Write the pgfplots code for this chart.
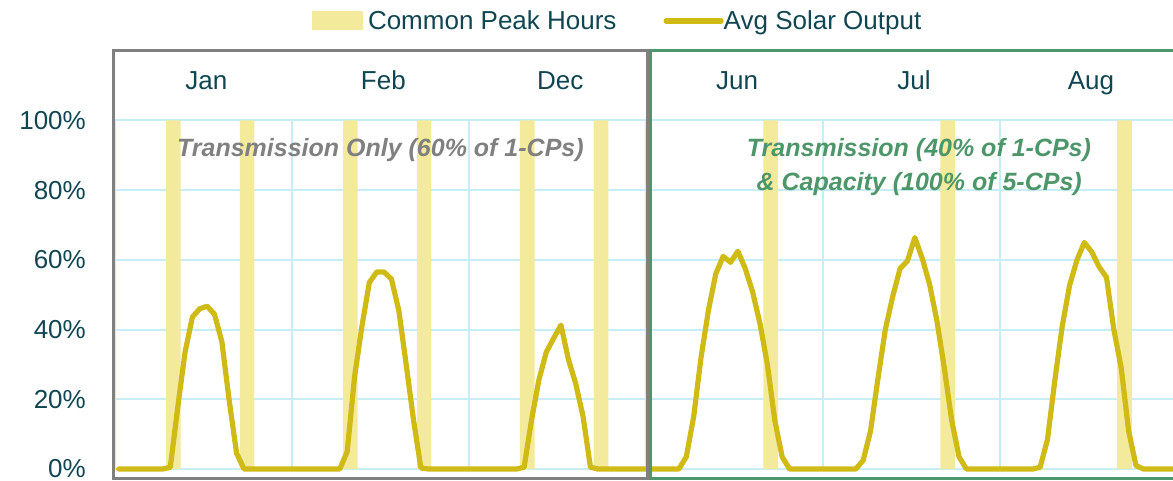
\documentclass[border=0pt]{standalone}
\usepackage{pgfplots}
\usepackage{pgfplotstable}
\pgfplotsset{compat=1.18}
\usepackage{fontspec}
\setmainfont{Liberation Sans}
\definecolor{solar}{RGB}{208,186,21}
\definecolor{peak}{RGB}{244,234,156}
\definecolor{gridc}{RGB}{200,238,245}
\definecolor{txt}{RGB}{16,70,82}
\definecolor{grayb}{RGB}{128,128,128}
\definecolor{greenb}{RGB}{78,150,108}
\definecolor{greent}{RGB}{77,150,105}

% hourly average solar output (%), Jan, Feb, Dec, Jun, Jul, Aug (24 h each)
\pgfplotstableread{
x y
0.5 0
1.5 0
2.5 0
3.5 0
4.5 0
5.5 0
6.5 0
7.5 0.5
8.5 17.5
9.5 33.5
10.5 43.6
11.5 46
12.5 46.7
13.5 44.4
14.5 36.5
15.5 19.5
16.5 4.5
17.5 0
18.5 0
19.5 0
20.5 0
21.5 0
22.5 0
23.5 0
24.5 0
25.5 0
26.5 0
27.5 0
28.5 0
29.5 0
30.5 0
31.5 5
32.5 26.5
33.5 41
34.5 53.5
35.5 56.5
36.5 56.5
37.5 54.5
38.5 45.5
39.5 30
40.5 14
41.5 0.3
42.5 0
43.5 0
44.5 0
45.5 0
46.5 0
47.5 0
48.5 0
49.5 0
50.5 0
51.5 0
52.5 0
53.5 0
54.5 0
55.5 0.5
56.5 14
57.5 25.5
58.5 33.5
59.5 37.5
60.5 41.3
61.5 31.5
62.5 24.5
63.5 15
64.5 0.5
65.5 0
66.5 0
67.5 0
68.5 0
69.5 0
70.5 0
71.5 0
72.5 0
73.5 0
74.5 0
75.5 0
76.5 0
77.5 3.5
78.5 15
79.5 32
80.5 45.5
81.5 56
82.5 61
83.5 59.3
84.5 62.5
85.5 57.5
86.5 50.8
87.5 41.7
88.5 30
89.5 14
90.5 3.5
91.5 0
92.5 0
93.5 0
94.5 0
95.5 0
96.5 0
97.5 0
98.5 0
99.5 0
100.5 0
101.5 2.5
102.5 11
103.5 26
104.5 40
105.5 49.5
106.5 57.5
107.5 59.7
108.5 66.4
109.5 60.5
110.5 53
111.5 42.5
112.5 29
113.5 14
114.5 3.5
115.5 0
116.5 0
117.5 0
118.5 0
119.5 0
120.5 0
121.5 0
122.5 0
123.5 0
124.5 0
125.5 0.5
126.5 8.5
127.5 25.5
128.5 41
129.5 52.7
130.5 60
131.5 65
132.5 62.3
133.5 58
134.5 55
135.5 40
136.5 29
137.5 11
138.5 1
139.5 0
140.5 0
141.5 0
142.5 0
143.5 0
}\solartable

% common peak hours (bar centres, 2 h wide)
\pgfplotstableread{
x y
7.92 100
17.93 100
31.92 100
41.93 100
55.92 100
65.93 100
88.95 100
112.95 100
136.95 100
}\peaktable

\begin{document}
\begin{tikzpicture}
\path[use as bounding box] (0pt,0pt) rectangle (1173pt,481pt);
\begin{axis}[
  at={(115pt,12pt)}, anchor=south west,
  scale only axis, width=1061.5pt, height=348.5pt,
  xmin=0, xmax=144, ymin=0, ymax=100,
  clip=false,
  axis line style={draw=none},
  major tick length=0pt,
  xtick={0,24,...,144}, xticklabels={},
  ytick={0,20,40,60,80,100},
  yticklabel={\pgfmathprintnumber{\tick}\%},
  /pgf/number format/assume math mode=true,
  yticklabel style={font=\fontsize{26}{26}\selectfont, text=txt, anchor=east, inner sep=0pt, xshift=-29pt},
  xmajorgrids, ymajorgrids,
  major grid style={draw=gridc, line width=2pt},
  legend style={at={(0.18559,1.2855)}, anchor=west, draw=none, fill=none,
    legend columns=2, font=\fontsize{26}{26}\selectfont, text=txt,
    inner sep=0pt, outer sep=0pt, nodes={inner sep=0pt},
    /tikz/every even column/.append style={column sep=47pt}},
  legend cell align=left,
]
\addplot[ybar, bar width=1.98, fill=peak, draw=none,
  legend image code/.code={\fill[peak] (0pt,-9.5pt) rectangle (51pt,9.5pt); \path (0pt,0pt) -- (56pt,0pt);}]
  table[x=x, y=y] {\peaktable};
\addlegendentry{Common Peak Hours}
\addplot[solar, line width=5.2pt, line join=round, line cap=round, mark=none,
  legend image code/.code={\draw[solar, line width=5.2pt, line cap=round] (2pt,0pt) -- (52pt,0pt); \path (0pt,0pt) -- (55pt,0pt);}]
  table[x=x, y=y] {\solartable};
\addlegendentry{Avg Solar Output}

\draw[grayb, line width=3pt] (axis cs:-0.14,-2.87) rectangle (axis cs:72.17,120.2);
\draw[greenb, line width=3pt] (axis cs:72.71,-2.87) rectangle (axis cs:147,120.2);

\node[anchor=base, font=\fontsize{26}{26}\selectfont, text=txt, inner sep=0pt] at (axis cs:12.4,108.75) {Jan};
\node[anchor=base, font=\fontsize{26}{26}\selectfont, text=txt, inner sep=0pt] at (axis cs:36.4,108.75) {Feb};
\node[anchor=base, font=\fontsize{26}{26}\selectfont, text=txt, inner sep=0pt] at (axis cs:60.4,108.75) {Dec};
\node[anchor=base, font=\fontsize{26}{26}\selectfont, text=txt, inner sep=0pt] at (axis cs:84.4,108.75) {Jun};
\node[anchor=base, font=\fontsize{26}{26}\selectfont, text=txt, inner sep=0pt] at (axis cs:108.4,108.75) {Jul};
\node[anchor=base, font=\fontsize{26}{26}\selectfont, text=txt, inner sep=0pt] at (axis cs:132.4,108.75) {Aug};
\node[anchor=base, font=\fontsize{25}{25}\selectfont\bfseries\itshape, text=grayb, inner sep=0pt] at (axis cs:36.0,89.8) {Transmission Only (60\% of 1-CPs)};
\node[anchor=base, font=\fontsize{25}{25}\selectfont\bfseries\itshape, text=greent, inner sep=0pt] at (axis cs:109.06,89.8) {Transmission (40\% of 1-CPs)};
\node[anchor=base, font=\fontsize{25}{25}\selectfont\bfseries\itshape, text=greent, inner sep=0pt] at (axis cs:109.1,79.9) {\& Capacity (100\% of 5-CPs)};
\end{axis}
\end{tikzpicture}
\end{document}
